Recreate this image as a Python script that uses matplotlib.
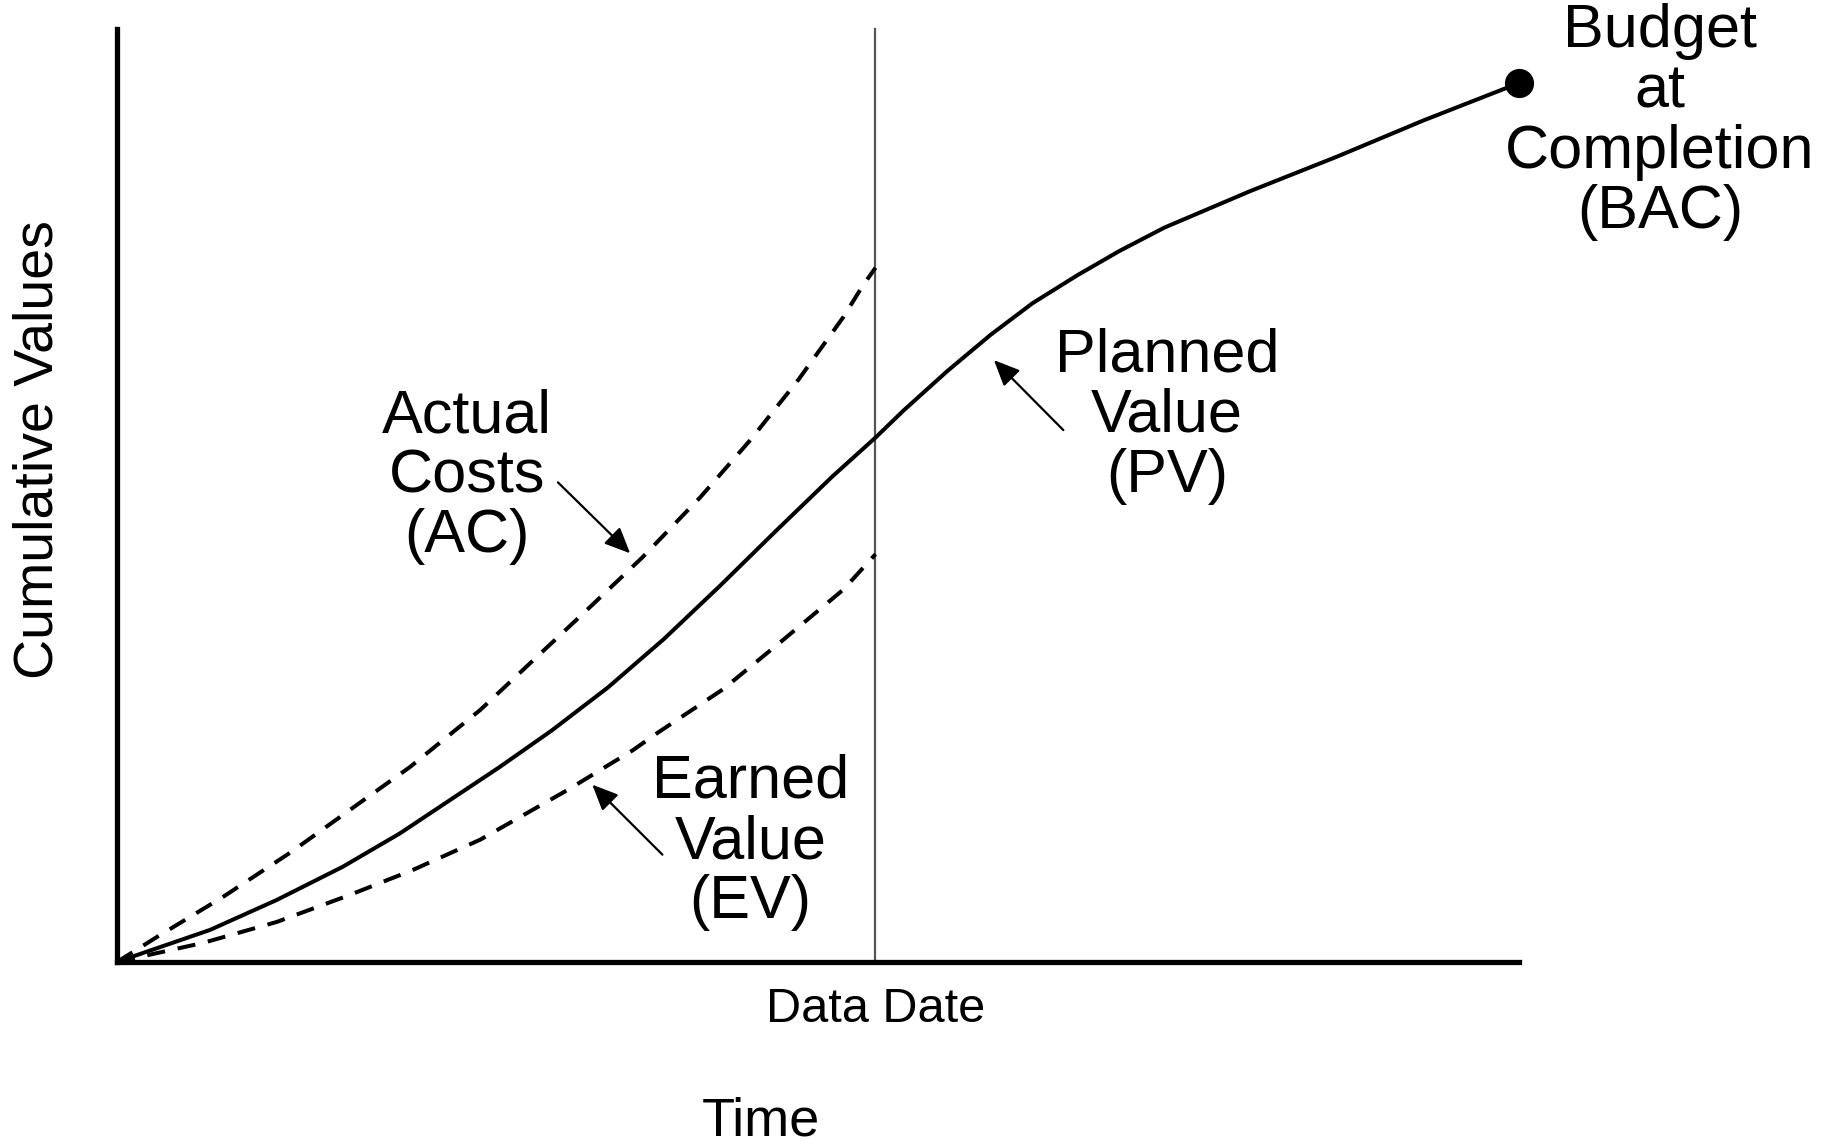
# Earned value S-curve chart
import matplotlib
matplotlib.use("Agg")
import matplotlib.pyplot as plt

# curve values (time 0-100, cumulative value 0-100)
pv_time = [0, 1.85, 6.63, 11.4, 16.1, 20.2, 27.3, 31.0, 35.0, 39.0, 43.0, 47.0, 51.0,
           54.1, 56.1, 59.2, 62.3, 65.3, 68.5, 71.5, 74.7, 80.8, 87.0, 93.2, 100]
pv_value = [0, 0.96, 3.43, 6.65, 10.2, 13.8, 20.9, 24.8, 29.4, 34.6, 40.3, 46.2, 52.0,
            56.2, 59.1, 63.3, 67.2, 70.6, 73.6, 76.2, 78.7, 82.6, 86.3, 90.2, 94.2]

ac_time = [0, 2.85, 7.56, 12.34, 16.8, 20.9, 25.9, 33.5, 37.5, 41.6, 45.15, 48.6, 51.8, 53.2, 54.1]
ac_value = [0, 2.68, 6.97, 11.7, 16.5, 20.9, 27.0, 37.7, 43.4, 49.8, 55.9, 62.4, 69.1, 72.5, 74.4]

ev_time = [0, 6.13, 11.4, 16.6, 21.1, 25.9, 32.1, 36.8, 38.5, 43.2, 47.5, 51.8, 54.1]
ev_value = [0, 2.04, 4.29, 7.18, 9.86, 13.1, 18.4, 22.7, 24.5, 29.2, 34.5, 39.9, 43.7]

data_date = 54.1
bac_time, bac_value = 100, 94.2

font = "Liberation Sans"

fig = plt.figure(figsize=(18.43, 11.43), dpi=100)
ax = fig.add_axes([0.0635, 0.1584, 0.7607, 0.8163])
ax.set_xlim(0, 100)
ax.set_ylim(0, 100)

for s in ["top", "right"]:
    ax.spines[s].set_visible(False)
for s in ["left", "bottom"]:
    ax.spines[s].set_linewidth(3.8)
ax.set_xticks([])
ax.set_yticks([])

# data date line
ax.plot([data_date, data_date], [0, 100], color="#555555", lw=1.6, clip_on=False, zorder=1)

# curves
ax.plot(pv_time, pv_value, color="black", lw=2.9, solid_capstyle="round",
        solid_joinstyle="round", clip_on=False, zorder=3)
ax.plot(ac_time, ac_value, color="black", lw=2.9, dashes=(4.5, 3.2), clip_on=False, zorder=3)
ax.plot(ev_time, ev_value, color="black", lw=2.9, dashes=(4.5, 3.2), clip_on=False, zorder=3)
ax.plot([bac_time], [bac_value], "o", color="black", markersize=20, clip_on=False, zorder=4)

# labels with arrows (va=baseline -> last line baseline)
arrow = dict(arrowstyle="-|>,head_length=0.45,head_width=0.2", color="black",
             lw=1.6, shrinkA=0, shrinkB=0, mutation_scale=35)
ax.text(24.96, 43.9, "Actual\nCosts\n(AC)", ha="center", va="baseline",
        fontsize=44, family=font, linespacing=1.07)
ax.annotate("", xy=(36.6, 43.8), xytext=(31.45, 51.4), arrowprops=arrow)

ax.text(74.9, 50.4, "Planned\nValue\n(PV)", ha="center", va="baseline",
        fontsize=44, family=font, linespacing=1.07)
ax.annotate("", xy=(62.55, 64.5), xytext=(67.5, 57.0), arrowprops=arrow)

ax.text(45.2, 4.7, "Earned\nValue\n(EV)", ha="center", va="baseline",
        fontsize=44, family=font, linespacing=1.07)
ax.annotate("", xy=(33.9, 19.0), xytext=(38.9, 11.5), arrowprops=arrow)

ax.text(110.06, 78.7, "Budget\nat\nCompletion\n(BAC)", ha="center", va="baseline",
        fontsize=44, family=font, linespacing=1.07, clip_on=False)

# axis texts
ax.text(-5.63, 54.9, "Cumulative Values", rotation=90, ha="center", va="center",
        fontsize=40, family=font)
ax.text(data_date, -6.43, "Data Date", ha="center", va="baseline", fontsize=35, family=font)
ax.text(45.9, -18.6, "Time", ha="center", va="baseline", fontsize=39, family=font)

fig.savefig("out.png", dpi=100, facecolor="white")
